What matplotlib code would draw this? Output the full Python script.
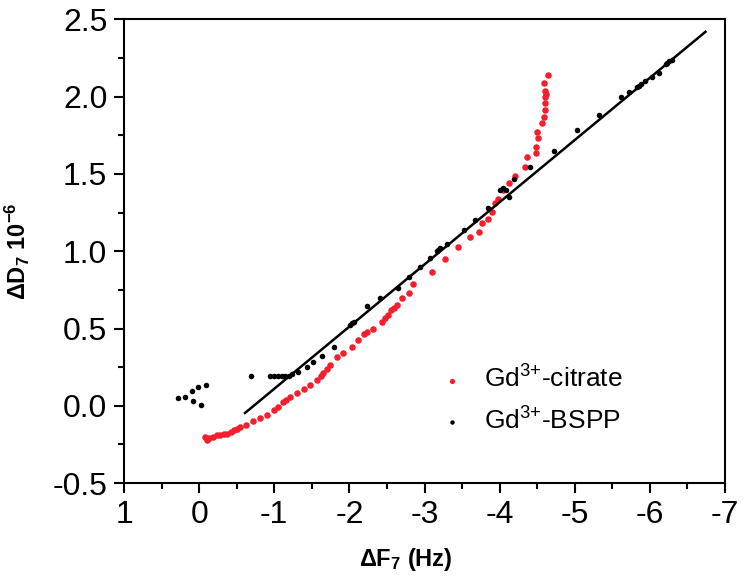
import numpy as np
import matplotlib
matplotlib.use("Agg")
import matplotlib.pyplot as plt

plt.rcParams['font.family'] = ['Liberation Sans', 'DejaVu Sans']
plt.rcParams['axes.unicode_minus'] = False
plt.rcParams['mathtext.fontset'] = 'custom'
plt.rcParams['mathtext.rm'] = 'Liberation Sans'
plt.rcParams['mathtext.it'] = 'Liberation Sans'
plt.rcParams['mathtext.bf'] = 'Liberation Sans:bold'

# Gd3+-citrate (red)
citrate_x = [-0.10, -0.08, -0.13, -0.19, -0.24, -0.28, -0.33, -0.37, -0.42, -0.46, -0.50,
             -0.55, -0.63, -0.72, -0.81, -0.90, -0.99, -1.05, -1.12, -1.16, -1.21, -1.30,
             -1.39, -1.48, -1.57, -1.62, -1.65, -1.70, -1.74, -1.83, -1.92, -2.03, -2.12,
             -2.19, -2.23, -2.32, -2.43, -2.48, -2.52, -2.56, -2.60, -2.63, -2.70, -2.79,
             -2.85, -3.10, -3.27, -3.44, -3.61, -3.73, -3.76, -3.85, -3.90, -3.94, -3.98,
             -4.05, -4.12, -4.20, -4.34, -4.37, -4.48, -4.48, -4.51, -4.50, -4.57, -4.59,
             -4.61, -4.61, -4.61, -4.62, -4.61, -4.59, -4.65]
citrate_y = [-0.22, -0.20, -0.21, -0.20, -0.19, -0.19, -0.18, -0.18, -0.17, -0.157, -0.15,
             -0.136, -0.125, -0.10, -0.08, -0.06, -0.027, -0.006, 0.026, 0.04, 0.059, 0.08,
             0.106, 0.134, 0.167, 0.19, 0.21, 0.24, 0.264, 0.317, 0.34, 0.382, 0.425,
             0.464, 0.48, 0.50, 0.544, 0.565, 0.587, 0.62, 0.635, 0.652, 0.695, 0.728,
             0.788, 0.868, 0.948, 1.026, 1.09, 1.127, 1.18, 1.207, 1.256, 1.31, 1.34,
             1.397, 1.44, 1.487, 1.547, 1.612, 1.634, 1.677, 1.73, 1.774, 1.828, 1.871,
             1.914, 1.957, 2.00, 2.02, 2.04, 2.087, 2.14]

# Gd3+-BSPP (black)
bspp_x = [0.28, 0.19, 0.095, 0.015, -0.09, 0.08, -0.025,
          -0.69, -0.94, -1.00, -1.05, -1.10, -1.14, -1.19, -1.23, -1.32, -1.43, -1.52,
          -1.63, -1.79, -2.01, -2.04, -2.06, -2.23, -2.41, -2.65, -2.79, -2.94, -3.07,
          -3.16, -3.18, -3.20, -3.30, -3.52, -3.67, -3.85, -4.01, -4.05, -4.08, -4.12,
          -4.19, -4.41, -4.72, -5.03, -5.32, -5.61, -5.72, -5.83, -5.85, -5.88, -5.94,
          -6.03, -6.12, -6.21, -6.23, -6.25, -6.30]
bspp_y = [0.05, 0.057, 0.095, 0.121, 0.134, 0.031, 0.005,
          0.19, 0.19, 0.19, 0.19, 0.19, 0.19, 0.195, 0.204, 0.22, 0.249, 0.285,
          0.32, 0.382, 0.52, 0.534, 0.545, 0.648, 0.695, 0.76, 0.835, 0.90, 0.954,
          1.00, 1.008, 1.02, 1.05, 1.14, 1.20, 1.278, 1.397, 1.407, 1.397, 1.353,
          1.466, 1.547, 1.65, 1.785, 1.88, 2.00, 2.03, 2.06, 2.07, 2.08, 2.10,
          2.126, 2.156, 2.21, 2.22, 2.23, 2.24]

# linear fit of BSPP data
fit_slope = -0.4025
fit_intercept = -0.2925
fit_range = [-0.61, -6.74]

fig = plt.figure(figsize=(7.44, 5.83), dpi=100)
ax = fig.add_axes([0.1667, 0.1715, 0.8078, 0.7951])

ax.scatter(citrate_x, citrate_y, s=22, color='#f41e2c', linewidths=0, label='Gd$^{3{+}}$-citrate', zorder=2)
ax.scatter(bspp_x, bspp_y, s=16, color='black', linewidths=0, label='Gd$^{3{+}}$-BSPP', zorder=3)
fx = np.array(fit_range)
ax.plot(fx, fit_intercept + fit_slope * fx, color='black', lw=1.8, zorder=4)

ax.set_xlim(1, -7)
ax.set_ylim(-0.5, 2.5)
ax.set_xticks(np.arange(1, -8, -1))
ax.set_xticks(np.arange(0.5, -7, -1), minor=True)
ax.set_yticks(np.arange(-0.5, 2.6, 0.5))
ax.set_yticks(np.arange(-0.25, 2.5, 0.5), minor=True)
ax.set_yticklabels(['%.1f' % v for v in np.arange(-0.5, 2.6, 0.5)])

for s in ax.spines.values():
    s.set_linewidth(1.5)
ax.tick_params(which='major', direction='out', length=7, width=1.5, labelsize=23, pad=5)
ax.tick_params(which='minor', direction='out', length=4, width=1.5)

ax.set_xlabel(r'ΔF$_\mathbf{7}$ (Hz)', fontsize=17, fontweight='bold')
ax.set_ylabel(r'ΔD$_\mathbf{7}$ 10$^\mathbf{-6}$', fontsize=17, fontweight='bold')
ax.xaxis.set_label_coords(0.468, -0.135)
ax.yaxis.set_label_coords(-0.153, 0.5)

ax.legend(loc='upper left', bbox_to_anchor=(0.487, 0.305), frameon=False, fontsize=19,
          handletextpad=0.75, labelspacing=0.55, markerscale=0.8, handlelength=0.9)

fig.savefig('out.png', dpi=100)
